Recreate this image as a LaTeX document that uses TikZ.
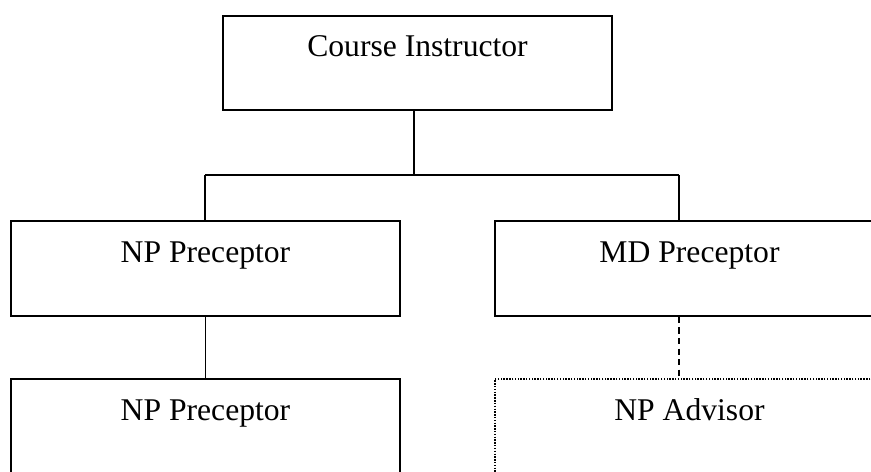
\documentclass[tikz,border=0pt]{standalone}
\usepackage{fontspec}
\setmainfont{Liberation Serif}
\begin{document}
\begin{tikzpicture}
  [x=0.02cm,y=-0.02cm,
   every node/.style={font=\fontsize{18pt}{21pt}\selectfont},
   orgbox/.style={draw,line width=1.1pt,rectangle,inner sep=0pt,minimum width=389*0.02cm,
                  text height=23.5pt,text depth=30.5pt},
   link/.style={line width=0.8pt}]
  \useasboundingbox (0,0) rectangle (871,472);
  \clip (0,0) rectangle (871,472);

  \node[orgbox] (ci)  at (417.5,63)  {Course Instructor};
  \node[orgbox] (np1) at (205.5,268.5) {NP Preceptor};
  \node[orgbox] (md)  at (689.5,268.5) {MD Preceptor};
  \node[orgbox] (np2) at (205.5,426.5) {NP Preceptor};
  \node[orgbox,line width=0.8pt,dash pattern=on 0.8pt off 0.8pt] (adv) at (689.5,426.5) {NP Advisor};

  \coordinate (jm) at (414,175);
  \coordinate (jl) at (205,175);
  \coordinate (jr) at (679,175);

  \draw[link] (jm |- ci.south) -- (jm);
  \draw[link] (jl) -- (jr);
  \foreach \from/\to in {jl/np1,jr/md}
    \draw[link] (\from) -- (\from |- \to.north);
  \draw[link] (np1.south) -- (np2.north);
  \draw[link,dash pattern=on 3.5pt off 2.5pt] (jr |- md.south) -- (jr |- adv.north);

\end{tikzpicture}
\end{document}
